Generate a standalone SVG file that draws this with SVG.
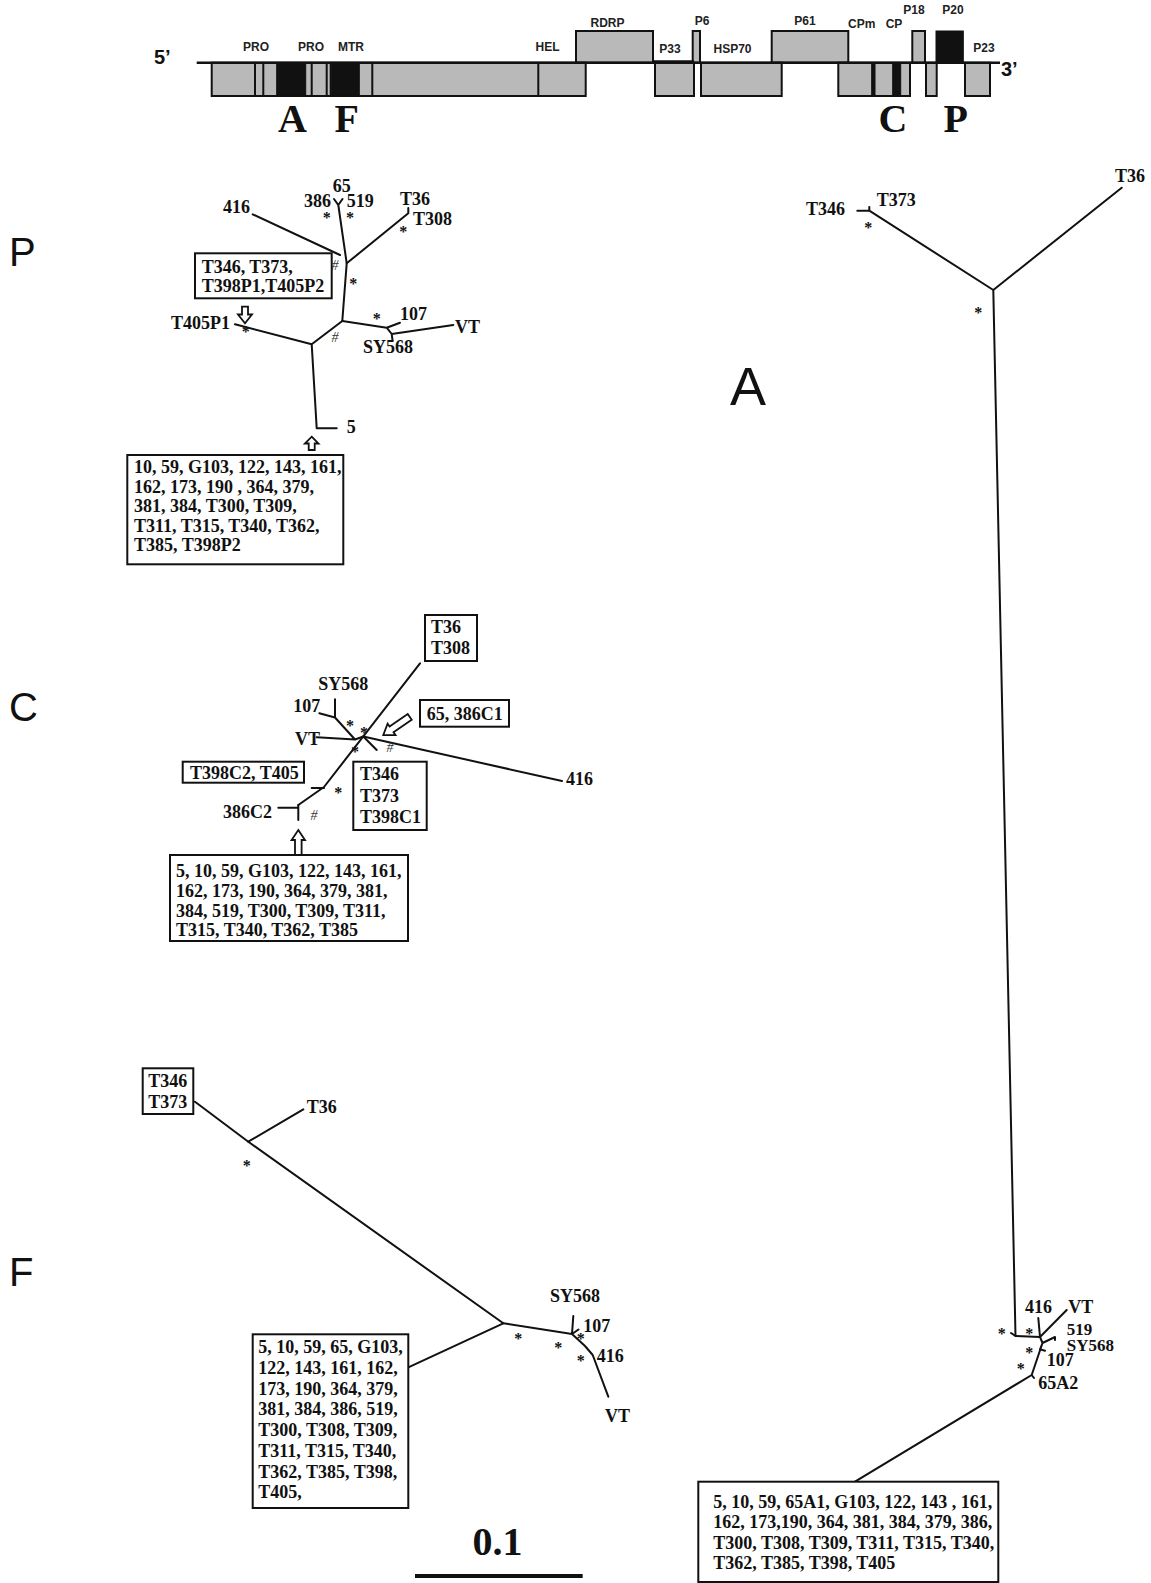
<svg xmlns="http://www.w3.org/2000/svg" width="1151" height="1583" viewBox="0 0 1151 1583">
<style>
.bg{fill:#fff}
.ln{stroke:#111;stroke-width:2;fill:none;stroke-linecap:round;stroke-linejoin:round}
.gb{fill:#b9b9b9;stroke:#111;stroke-width:2}
.bk{fill:#111;stroke:#111;stroke-width:1}
.gl{font-family:"Liberation Sans",Arial,sans-serif;font-weight:bold;font-size:12px;fill:#222;text-anchor:middle}
.pr{font-family:"Liberation Sans",Arial,sans-serif;font-weight:bold;font-size:20px;fill:#111}
.big{font-family:"Liberation Serif","Times New Roman",serif;font-weight:bold;font-size:40px;fill:#111;text-anchor:middle}
.pan{font-family:"Liberation Sans",Arial,sans-serif;font-size:40px;fill:#111}
.t{font-family:"Liberation Serif","Times New Roman",serif;font-weight:bold;font-size:18px;fill:#111}
.st{font-family:"Liberation Serif","Times New Roman",serif;font-weight:bold;font-size:16px;fill:#111;text-anchor:middle}
.hs{font-family:"Liberation Serif","Times New Roman",serif;font-style:italic;font-size:14px;fill:#333;text-anchor:middle}
.bx{fill:#fff;stroke:#111;stroke-width:2}
.ar{fill:#fff;stroke:#111;stroke-width:1.8;stroke-linejoin:miter}
</style>
<rect class="bg" x="0" y="0" width="1151" height="1583"/>

<g id="genome">
  <text class="pr" x="154" y="64">5’</text>
  <text class="pr" x="1001" y="76">3’</text>
  <rect class="gb" x="576" y="31" width="77" height="31.7"/>
  <rect class="gb" x="692.7" y="31" width="7.3" height="31.7"/>
  <rect class="gb" x="771.7" y="31" width="76.6" height="31.7"/>
  <rect class="gb" x="912.3" y="31" width="12.7" height="31.7"/>
  <rect class="bk" x="936" y="31" width="27.3" height="31.7"/>
  <rect class="gb" x="211.7" y="62.7" width="374" height="33.3"/>
  <rect class="bk" x="276.7" y="63.5" width="29" height="31.7"/>
  <rect class="bk" x="331.7" y="63.5" width="27.6" height="31.7"/>
  <path class="ln" d="M255 62.7V96M263.3 62.7V96M311.7 62.7V96M326.7 62.7V96M330.7 62.7V96M372.3 62.7V96M538.3 62.7V96"/>
  <rect class="gb" x="655" y="62.7" width="39" height="33.3"/>
  <rect class="gb" x="701" y="62.7" width="80.7" height="33.3"/>
  <rect class="gb" x="838.3" y="62.7" width="71.7" height="33.3"/>
  <rect class="bk" x="871.7" y="63.5" width="3.3" height="31.7"/>
  <rect class="bk" x="892.7" y="63.5" width="8" height="31.7"/>
  <rect class="gb" x="926" y="62.7" width="10.7" height="33.3"/>
  <rect class="gb" x="965" y="62.7" width="25" height="33.3"/>
  <line x1="196.7" y1="62.7" x2="1000" y2="62.7" stroke="#111" stroke-width="2.6"/>
  <line x1="653" y1="61.5" x2="694" y2="61.5" stroke="#111" stroke-width="2.6"/>
  <text class="gl" x="256" y="51">PRO</text>
  <text class="gl" x="311" y="51">PRO</text>
  <text class="gl" x="351" y="51">MTR</text>
  <text class="gl" x="547.5" y="51">HEL</text>
  <text class="gl" x="607.5" y="27">RDRP</text>
  <text class="gl" x="670" y="53">P33</text>
  <text class="gl" x="702" y="25">P6</text>
  <text class="gl" x="732.5" y="53">HSP70</text>
  <text class="gl" x="805" y="25">P61</text>
  <text class="gl" x="861.7" y="28">CPm</text>
  <text class="gl" x="894" y="28">CP</text>
  <text class="gl" x="914" y="13.5">P18</text>
  <text class="gl" x="953" y="13.5">P20</text>
  <text class="gl" x="984" y="52">P23</text>
  <text class="big" x="292.5" y="132">A</text>
  <text class="big" x="346.7" y="132">F</text>
  <text class="big" x="893" y="132">C</text>
  <text class="big" x="955.8" y="132">P</text>
</g>

<g id="panel-labels">
  <text class="pan" x="9" y="266">P</text>
  <text class="pan" x="9" y="721">C</text>
  <text class="pan" x="9" y="1286">F</text>
  <text class="pan" x="730" y="405" style="font-size:54px">A</text>
</g>

<g id="connectors">
  <!-- P tree -->
  <path class="ln" d="M252.7 214.3L340 255"/>
  <path class="ln" d="M334 199L338.3 205L342.5 199M338.3 205L346.7 263.3"/>
  <path class="ln" d="M408.3 208V213.3L346.7 263.3L342.3 321"/>
  <path class="ln" d="M342.3 321L386.7 327.7L400 322.7M386.7 327.7L391.7 334L453.3 325M391.7 334L392.5 340"/>
  <path class="ln" d="M342.3 321L311.7 344.3L235 324.3M311.7 344.3L316.7 428.3H336.7"/>
  <!-- C tree -->
  <path class="ln" d="M420 663.3L324 787L298.3 805"/>
  <path class="ln" d="M311.7 788H324"/>
  <path class="ln" d="M278.3 807.7H298.3M298.3 805V820"/>
  <path class="ln" d="M363.3 736.5L562 781"/>
  <path class="ln" d="M363.3 736.5L376.7 750"/>
  <path class="ln" d="M316.7 737.3L355 739.5L363.3 736.5M355 739.5L335 717.5L335 699.3M335 717.5L319.3 713.3"/>
  <!-- F tree -->
  <path class="ln" d="M195 1101.7L248.3 1141.7L503.3 1323.3L408.3 1367.3"/>
  <path class="ln" d="M248.3 1141.7L303.3 1109.3"/>
  <path class="ln" d="M503.3 1323.3L572 1334L573.3 1316M572 1334L578.5 1329.5M572 1334L585 1346L592.7 1355L608.3 1396.7"/>
  <!-- A tree -->
  <path class="ln" d="M857.3 210.7H869.3V207M869.3 210.7L993.3 290L1121.7 187.7M993.3 290L1015.5 1336"/>
  <path class="ln" d="M1011 1333L1015.5 1336L1040 1337L1038.3 1318M1040 1337L1066.7 1310M1040 1337L1042.5 1343L1055 1337V1340M1042.5 1343L1040 1349.3L1045 1350.7M1042.5 1343L1031.7 1375L1034 1378M1031.7 1375L855 1481.7"/>
  <!-- scale bar -->
  <line x1="415" y1="1576" x2="582.7" y2="1576" stroke="#111" stroke-width="4"/>
</g>

<g id="markers">
  <text class="st" x="326.7" y="222.5">*</text>
  <text class="st" x="350" y="222.5">*</text>
  <text class="st" x="403.3" y="236.5">*</text>
  <text class="st" x="353.3" y="289">*</text>
  <text class="st" x="376.7" y="323.5">*</text>
  <text class="st" x="245.7" y="336.5">*</text>
  <text class="hs" x="335" y="270">#</text>
  <text class="hs" x="335" y="341.5">#</text>

  <text class="st" x="350" y="730.8">*</text>
  <text class="st" x="364" y="737.5">*</text>
  <text class="st" x="355" y="756.8">*</text>
  <text class="st" x="338.3" y="797.5">*</text>
  <text class="hs" x="390" y="752">#</text>
  <text class="hs" x="314" y="820">#</text>

  <text class="st" x="246.7" y="1170.8">*</text>
  <text class="st" x="518.3" y="1344.2">*</text>
  <text class="st" x="558.3" y="1352.5">*</text>
  <text class="st" x="580.7" y="1344.2">*</text>
  <text class="st" x="580.7" y="1365.8">*</text>

  <text class="st" x="868.3" y="232.5">*</text>
  <text class="st" x="978.3" y="317.5">*</text>
  <text class="st" x="1001.7" y="1339.2">*</text>
  <text class="st" x="1029.3" y="1339.2">*</text>
  <text class="st" x="1029.3" y="1357.5">*</text>
  <text class="st" x="1020.7" y="1373.5">*</text>
</g>

<g id="arrows">
  <path class="ar" d="M242 306.7H248V314.5H252L245 323.3L238 314.5H242Z"/>
  <path class="ar" d="M311.7 436.7L318.5 443.5H314.7V450H308.7V443.5H304.9Z"/>
  <path class="ar" d="M298.3 830L305 840H301.6V855H295V840H291.6Z"/>
  <path class="ar" transform="translate(383.3,735) rotate(-34.4)" d="M0 0L10 -7V-3.5H32V3.5H10V7Z"/>
</g>

<g id="node-P-tips">
  <text class="t" x="223" y="213">416</text>
  <text class="t" x="332.7" y="191.7">65</text>
  <text class="t" x="304" y="206.7">386</text>
  <text class="t" x="346.7" y="206.7">519</text>
  <text class="t" x="400" y="205">T36</text>
  <text class="t" x="413" y="225">T308</text>
  <text class="t" x="400" y="320">107</text>
  <text class="t" x="455" y="333.3">VT</text>
  <text class="t" x="363" y="352.7">SY568</text>
  <text class="t" x="230" y="329" text-anchor="end">T405P1</text>
  <text class="t" x="346.7" y="433.3">5</text>
</g>
<g id="node-P-box1">
  <rect class="bx" x="195" y="253.3" width="136.7" height="45"/>
  <text class="t" x="201.7" y="273.3">T346, T373,</text>
  <text class="t" x="201.7" y="291.7">T398P1,T405P2</text>
</g>
<g id="node-P-box2">
  <rect class="bx" x="127.3" y="455" width="216" height="109.3"/>
  <text class="t" x="134" y="473">10, 59, G103, 122, 143, 161,</text>
  <text class="t" x="134" y="492.5">162, 173, 190 , 364, 379,</text>
  <text class="t" x="134" y="512">381, 384, T300, T309,</text>
  <text class="t" x="134" y="531.5">T311, T315, T340, T362,</text>
  <text class="t" x="134" y="551">T385,  T398P2</text>
</g>

<g id="node-C-tips">
  <text class="t" x="318.3" y="690">SY568</text>
  <text class="t" x="293.3" y="711.7">107</text>
  <text class="t" x="295" y="745">VT</text>
  <text class="t" x="223" y="818.3">386C2</text>
  <text class="t" x="566" y="785">416</text>
</g>
<g id="node-C-box-T36">
  <rect class="bx" x="425" y="615" width="52" height="46"/>
  <text class="t" x="431" y="633">T36</text>
  <text class="t" x="431" y="654">T308</text>
</g>
<g id="node-C-box-65">
  <rect class="bx" x="420" y="700" width="89" height="26.7"/>
  <text class="t" x="426.7" y="720">65, 386C1</text>
</g>
<g id="node-C-box-T398C2">
  <rect class="bx" x="182.7" y="761.7" width="121.3" height="21"/>
  <text class="t" x="190" y="779">T398C2, T405</text>
</g>
<g id="node-C-box-T346">
  <rect class="bx" x="353.3" y="761.7" width="73.4" height="68.3"/>
  <text class="t" x="360" y="780">T346</text>
  <text class="t" x="360" y="801.7">T373</text>
  <text class="t" x="360" y="823.3">T398C1</text>
</g>
<g id="node-C-box-big">
  <rect class="bx" x="170" y="855" width="238" height="86"/>
  <text class="t" x="176" y="877.3">5, 10, 59, G103, 122, 143, 161,</text>
  <text class="t" x="176" y="896.7">162, 173, 190, 364, 379, 381,</text>
  <text class="t" x="176" y="916.7">384, 519, T300, T309, T311,</text>
  <text class="t" x="176" y="936.3">T315, T340, T362, T385</text>
</g>

<g id="node-F-box-T346">
  <rect class="bx" x="142.7" y="1068.3" width="50.6" height="45.7"/>
  <text class="t" x="148.3" y="1086.7">T346</text>
  <text class="t" x="148.3" y="1108.3">T373</text>
</g>
<g id="node-F-tips">
  <text class="t" x="306.7" y="1113.3">T36</text>
  <text class="t" x="550" y="1301.7">SY568</text>
  <text class="t" x="583.3" y="1331.7">107</text>
  <text class="t" x="596.7" y="1361.7">416</text>
  <text class="t" x="605" y="1421.7">VT</text>
</g>
<g id="node-F-box-big">
  <rect class="bx" x="252.7" y="1334.3" width="155.6" height="173.7"/>
  <text class="t" x="258.3" y="1353.3">5, 10, 59, 65, G103,</text>
  <text class="t" x="258.3" y="1374">122, 143, 161, 162,</text>
  <text class="t" x="258.3" y="1394.7">173, 190, 364, 379,</text>
  <text class="t" x="258.3" y="1415.4">381, 384, 386, 519,</text>
  <text class="t" x="258.3" y="1436.1">T300, T308, T309,</text>
  <text class="t" x="258.3" y="1456.8">T311, T315, T340,</text>
  <text class="t" x="258.3" y="1477.5">T362, T385, T398,</text>
  <text class="t" x="258.3" y="1498.2">T405,</text>
</g>

<g id="node-A-tips">
  <text class="t" x="806" y="215">T346</text>
  <text class="t" x="876.7" y="206">T373</text>
  <text class="t" x="1115" y="181.7">T36</text>
  <text class="t" x="1025" y="1312.7">416</text>
  <text class="t" x="1068.3" y="1312.7">VT</text>
  <text class="t" x="1066.7" y="1334.5" style="font-size:17px">519</text>
  <text class="t" x="1066.7" y="1351" style="font-size:17px">SY568</text>
  <text class="t" x="1046.7" y="1366">107</text>
  <text class="t" x="1038.3" y="1389.3">65A2</text>
</g>
<g id="node-A-box">
  <rect class="bx" x="698.3" y="1481.7" width="300" height="100.3"/>
  <text class="t" x="713.3" y="1508.3">5, 10, 59, 65A1, G103, 122, 143 , 161,</text>
  <text class="t" x="713.3" y="1528.3">162, 173,190, 364, 381, 384, 379, 386,</text>
  <text class="t" x="713.3" y="1549">T300, T308, T309, T311, T315, T340,</text>
  <text class="t" x="713.3" y="1569">T362, T385, T398, T405</text>
</g>

<g id="scale">
  <text class="big" x="497.5" y="1555">0.1</text>
</g>
</svg>
